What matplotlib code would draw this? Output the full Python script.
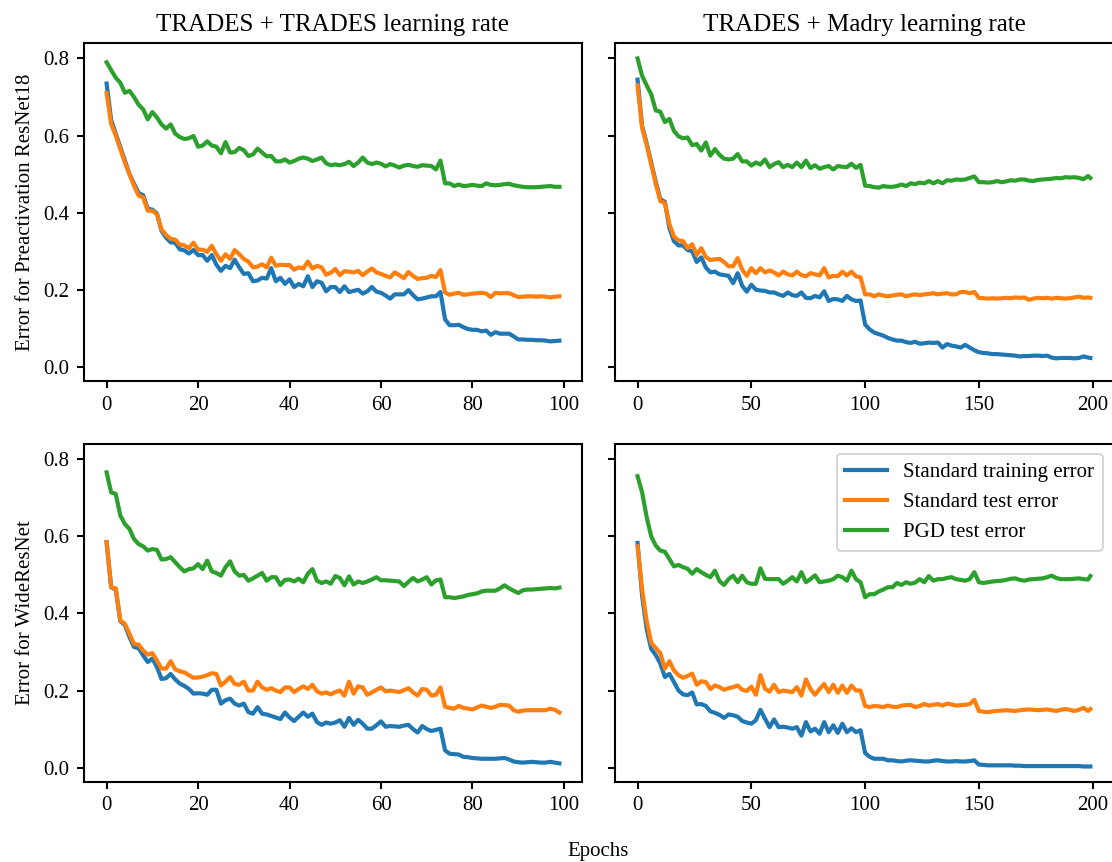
import numpy as np
import matplotlib
matplotlib.use("Agg")
import matplotlib.pyplot as plt

plt.rcParams['font.family'] = ['Liberation Serif', 'DejaVu Serif']
plt.rcParams['lines.linewidth'] = 2.0
plt.rcParams['axes.linewidth'] = 1.0
plt.rcParams['xtick.major.width'] = 1.0
plt.rcParams['ytick.major.width'] = 1.0

# epochs
epochs_short = np.arange(0, 100)
epochs_long = np.append(np.arange(0, 200, 2), 199)

# Preactivation ResNet18, TRADES learning rate (100 epochs)
pr_trades_train = [
    0.735, 0.64, 0.605, 0.57, 0.535, 0.50, 0.475, 0.451, 0.445, 0.41,
    0.408, 0.398, 0.353, 0.335, 0.323, 0.322, 0.305, 0.302, 0.294, 0.303,
    0.290, 0.290, 0.275, 0.290, 0.265, 0.249, 0.262, 0.256, 0.278, 0.258,
    0.241, 0.243, 0.222, 0.224, 0.231, 0.229, 0.256, 0.222, 0.231, 0.215,
    0.227, 0.207, 0.215, 0.209, 0.235, 0.207, 0.222, 0.218, 0.196, 0.207,
    0.207, 0.194, 0.209, 0.194, 0.197, 0.200, 0.190, 0.196, 0.207, 0.195,
    0.192, 0.185, 0.177, 0.188, 0.188, 0.188, 0.199, 0.186, 0.175, 0.177,
    0.180, 0.183, 0.183, 0.194, 0.123, 0.108, 0.108, 0.109, 0.103, 0.098,
    0.096, 0.096, 0.092, 0.094, 0.083, 0.090, 0.086, 0.086, 0.086, 0.079,
    0.071, 0.071, 0.070, 0.070, 0.069, 0.069, 0.068, 0.066, 0.067, 0.068]
pr_trades_test = [
    0.71, 0.63, 0.60, 0.565, 0.53, 0.50, 0.47, 0.444, 0.44, 0.405,
    0.405, 0.396, 0.357, 0.342, 0.332, 0.330, 0.317, 0.315, 0.308, 0.322,
    0.304, 0.304, 0.298, 0.314, 0.292, 0.275, 0.292, 0.280, 0.303, 0.292,
    0.280, 0.273, 0.258, 0.260, 0.266, 0.258, 0.283, 0.262, 0.265, 0.264,
    0.264, 0.252, 0.258, 0.255, 0.273, 0.255, 0.262, 0.258, 0.239, 0.244,
    0.254, 0.238, 0.248, 0.247, 0.245, 0.249, 0.238, 0.247, 0.255, 0.245,
    0.241, 0.236, 0.232, 0.245, 0.238, 0.230, 0.246, 0.236, 0.228, 0.230,
    0.231, 0.236, 0.233, 0.251, 0.193, 0.187, 0.190, 0.192, 0.187, 0.188,
    0.190, 0.191, 0.192, 0.190, 0.181, 0.192, 0.191, 0.191, 0.191, 0.186,
    0.181, 0.182, 0.183, 0.183, 0.182, 0.183, 0.182, 0.180, 0.182, 0.183]
pr_trades_pgd = [
    0.79, 0.77, 0.75, 0.737, 0.711, 0.716, 0.70, 0.68, 0.668, 0.642,
    0.661, 0.647, 0.629, 0.618, 0.629, 0.605, 0.596, 0.591, 0.593, 0.599,
    0.571, 0.574, 0.585, 0.574, 0.571, 0.554, 0.583, 0.556, 0.557, 0.568,
    0.562, 0.547, 0.551, 0.566, 0.556, 0.546, 0.547, 0.533, 0.533, 0.538,
    0.530, 0.534, 0.540, 0.543, 0.540, 0.534, 0.538, 0.543, 0.528, 0.523,
    0.525, 0.523, 0.526, 0.532, 0.521, 0.530, 0.543, 0.530, 0.526, 0.530,
    0.527, 0.520, 0.526, 0.522, 0.517, 0.522, 0.524, 0.521, 0.519, 0.523,
    0.522, 0.521, 0.512, 0.535, 0.476, 0.476, 0.469, 0.473, 0.469, 0.470,
    0.472, 0.470, 0.469, 0.476, 0.472, 0.471, 0.472, 0.474, 0.475, 0.471,
    0.469, 0.467, 0.466, 0.466, 0.466, 0.467, 0.468, 0.469, 0.467, 0.467]

# Preactivation ResNet18, Madry learning rate (200 epochs, every 2nd)
pr_madry_train = [
    0.745, 0.625, 0.58, 0.53, 0.48, 0.435, 0.428, 0.36, 0.326, 0.315,
    0.315, 0.303, 0.300, 0.272, 0.284, 0.258, 0.245, 0.247, 0.240, 0.238,
    0.236, 0.217, 0.243, 0.210, 0.195, 0.213, 0.200, 0.198, 0.197, 0.193,
    0.193, 0.188, 0.184, 0.193, 0.186, 0.184, 0.193, 0.179, 0.178, 0.184,
    0.180, 0.196, 0.171, 0.176, 0.175, 0.171, 0.184, 0.175, 0.171, 0.172,
    0.110, 0.097, 0.089, 0.085, 0.081, 0.075, 0.071, 0.068, 0.068, 0.064,
    0.062, 0.065, 0.060, 0.061, 0.063, 0.062, 0.063, 0.050, 0.059, 0.055,
    0.053, 0.050, 0.057, 0.050, 0.043, 0.038, 0.036, 0.035, 0.033, 0.033,
    0.032, 0.031, 0.030, 0.029, 0.027, 0.028, 0.028, 0.029, 0.029, 0.028,
    0.029, 0.024, 0.022, 0.023, 0.023, 0.023, 0.022, 0.023, 0.027, 0.024,
    0.023]
pr_madry_test = [
    0.73, 0.62, 0.575, 0.525, 0.475, 0.43, 0.425, 0.37, 0.338, 0.328,
    0.326, 0.308, 0.318, 0.29, 0.308, 0.285, 0.277, 0.279, 0.28, 0.272,
    0.261, 0.261, 0.282, 0.252, 0.236, 0.256, 0.243, 0.256, 0.245, 0.250,
    0.245, 0.237, 0.247, 0.240, 0.237, 0.247, 0.238, 0.235, 0.243, 0.240,
    0.237, 0.256, 0.232, 0.236, 0.235, 0.247, 0.237, 0.247, 0.235, 0.232,
    0.188, 0.188, 0.183, 0.188, 0.185, 0.183, 0.185, 0.187, 0.188, 0.183,
    0.186, 0.188, 0.186, 0.188, 0.189, 0.191, 0.188, 0.190, 0.191, 0.188,
    0.188, 0.194, 0.194, 0.191, 0.194, 0.179, 0.178, 0.177, 0.178, 0.177,
    0.178, 0.179, 0.178, 0.180, 0.179, 0.180, 0.174, 0.177, 0.179, 0.178,
    0.179, 0.177, 0.179, 0.178, 0.177, 0.178, 0.180, 0.182, 0.179, 0.180,
    0.179]
pr_madry_pgd = [
    0.80, 0.755, 0.73, 0.707, 0.665, 0.662, 0.635, 0.643, 0.612, 0.598,
    0.593, 0.595, 0.575, 0.578, 0.561, 0.582, 0.548, 0.565, 0.550, 0.540,
    0.538, 0.540, 0.552, 0.533, 0.533, 0.522, 0.530, 0.525, 0.538, 0.518,
    0.526, 0.531, 0.518, 0.524, 0.518, 0.530, 0.518, 0.535, 0.516, 0.523,
    0.514, 0.518, 0.521, 0.512, 0.521, 0.519, 0.518, 0.527, 0.516, 0.524,
    0.470, 0.469, 0.466, 0.465, 0.469, 0.467, 0.467, 0.469, 0.473, 0.469,
    0.476, 0.474, 0.478, 0.476, 0.482, 0.476, 0.482, 0.476, 0.484, 0.483,
    0.486, 0.485, 0.486, 0.490, 0.494, 0.479, 0.479, 0.478, 0.479, 0.482,
    0.479, 0.481, 0.484, 0.483, 0.486, 0.486, 0.483, 0.482, 0.485, 0.486,
    0.487, 0.488, 0.490, 0.489, 0.492, 0.491, 0.492, 0.490, 0.487, 0.495,
    0.490]

# WideResNet, TRADES learning rate (100 epochs)
wr_trades_train = [
    0.585, 0.468, 0.462, 0.38, 0.37, 0.339, 0.313, 0.31, 0.291, 0.274,
    0.283, 0.261, 0.230, 0.232, 0.243, 0.229, 0.218, 0.212, 0.204, 0.192,
    0.193, 0.192, 0.189, 0.202, 0.202, 0.166, 0.175, 0.179, 0.166, 0.161,
    0.166, 0.144, 0.140, 0.157, 0.140, 0.138, 0.134, 0.130, 0.126, 0.143,
    0.130, 0.121, 0.132, 0.143, 0.132, 0.140, 0.118, 0.111, 0.117, 0.114,
    0.117, 0.123, 0.106, 0.129, 0.111, 0.124, 0.114, 0.101, 0.101, 0.110,
    0.120, 0.106, 0.108, 0.107, 0.106, 0.109, 0.111, 0.100, 0.091, 0.108,
    0.100, 0.095, 0.098, 0.101, 0.045, 0.036, 0.035, 0.034, 0.028, 0.027,
    0.025, 0.024, 0.023, 0.023, 0.023, 0.023, 0.024, 0.025, 0.021, 0.016,
    0.014, 0.013, 0.014, 0.015, 0.014, 0.013, 0.013, 0.015, 0.013, 0.011]
wr_trades_test = [
    0.585, 0.468, 0.465, 0.382, 0.373, 0.347, 0.321, 0.319, 0.304, 0.293,
    0.297, 0.278, 0.257, 0.257, 0.276, 0.255, 0.250, 0.247, 0.240, 0.233,
    0.234, 0.236, 0.240, 0.245, 0.243, 0.213, 0.223, 0.235, 0.217, 0.215,
    0.223, 0.200, 0.200, 0.223, 0.208, 0.202, 0.206, 0.200, 0.196, 0.208,
    0.208, 0.196, 0.204, 0.211, 0.204, 0.215, 0.198, 0.192, 0.195, 0.190,
    0.196, 0.200, 0.187, 0.223, 0.192, 0.211, 0.208, 0.189, 0.195, 0.202,
    0.208, 0.198, 0.200, 0.198, 0.196, 0.201, 0.206, 0.195, 0.187, 0.204,
    0.202, 0.187, 0.189, 0.208, 0.158, 0.155, 0.153, 0.160, 0.155, 0.153,
    0.151, 0.156, 0.161, 0.158, 0.155, 0.158, 0.163, 0.162, 0.161, 0.149,
    0.145, 0.148, 0.149, 0.149, 0.149, 0.149, 0.149, 0.153, 0.150, 0.143]
wr_trades_pgd = [
    0.766, 0.714, 0.71, 0.654, 0.632, 0.619, 0.593, 0.58, 0.574, 0.563,
    0.567, 0.565, 0.540, 0.541, 0.546, 0.533, 0.520, 0.509, 0.515, 0.517,
    0.528, 0.515, 0.537, 0.509, 0.505, 0.498, 0.520, 0.535, 0.509, 0.498,
    0.500, 0.485, 0.491, 0.498, 0.505, 0.485, 0.494, 0.494, 0.474, 0.487,
    0.488, 0.483, 0.490, 0.481, 0.503, 0.515, 0.485, 0.479, 0.483, 0.477,
    0.497, 0.492, 0.473, 0.496, 0.475, 0.483, 0.479, 0.483, 0.488, 0.494,
    0.486, 0.486, 0.485, 0.484, 0.483, 0.471, 0.482, 0.492, 0.483, 0.488,
    0.494, 0.475, 0.486, 0.488, 0.442, 0.442, 0.440, 0.442, 0.444, 0.448,
    0.450, 0.452, 0.457, 0.459, 0.459, 0.459, 0.465, 0.473, 0.465, 0.459,
    0.453, 0.460, 0.462, 0.462, 0.463, 0.464, 0.465, 0.466, 0.465, 0.467]

# WideResNet, Madry learning rate (200 epochs, every 2nd)
wr_madry_train = [
    0.583, 0.446, 0.36, 0.308, 0.292, 0.27, 0.235, 0.243, 0.222, 0.200,
    0.190, 0.188, 0.195, 0.164, 0.165, 0.160, 0.146, 0.142, 0.137, 0.129,
    0.138, 0.136, 0.132, 0.121, 0.117, 0.114, 0.123, 0.150, 0.127, 0.105,
    0.125, 0.105, 0.106, 0.104, 0.101, 0.105, 0.083, 0.118, 0.094, 0.101,
    0.088, 0.118, 0.092, 0.110, 0.090, 0.114, 0.092, 0.102, 0.092, 0.097,
    0.038, 0.028, 0.023, 0.023, 0.023, 0.019, 0.019, 0.017, 0.016, 0.018,
    0.019, 0.018, 0.017, 0.016, 0.016, 0.018, 0.019, 0.017, 0.016, 0.016,
    0.017, 0.016, 0.016, 0.017, 0.019, 0.008, 0.007, 0.006, 0.006, 0.006,
    0.006, 0.006, 0.006, 0.005, 0.005, 0.004, 0.004, 0.004, 0.004, 0.004,
    0.004, 0.004, 0.004, 0.004, 0.004, 0.004, 0.004, 0.004, 0.003, 0.003,
    0.003]
wr_madry_test = [
    0.574, 0.462, 0.38, 0.324, 0.31, 0.297, 0.257, 0.276, 0.252, 0.240,
    0.233, 0.238, 0.244, 0.215, 0.224, 0.222, 0.204, 0.213, 0.209, 0.202,
    0.206, 0.209, 0.213, 0.202, 0.199, 0.210, 0.189, 0.240, 0.205, 0.197,
    0.215, 0.196, 0.200, 0.198, 0.196, 0.209, 0.187, 0.229, 0.204, 0.189,
    0.204, 0.217, 0.196, 0.215, 0.194, 0.213, 0.194, 0.213, 0.200, 0.200,
    0.160, 0.157, 0.160, 0.159, 0.157, 0.161, 0.158, 0.157, 0.161, 0.162,
    0.163, 0.157, 0.160, 0.165, 0.161, 0.163, 0.165, 0.161, 0.166, 0.164,
    0.161, 0.162, 0.163, 0.165, 0.176, 0.147, 0.145, 0.144, 0.146, 0.147,
    0.148, 0.149, 0.148, 0.147, 0.149, 0.150, 0.151, 0.150, 0.149, 0.150,
    0.151, 0.149, 0.147, 0.150, 0.152, 0.150, 0.147, 0.150, 0.155, 0.147,
    0.152]
wr_madry_pgd = [
    0.756, 0.714, 0.65, 0.60, 0.576, 0.563, 0.560, 0.541, 0.522, 0.526,
    0.520, 0.516, 0.503, 0.515, 0.507, 0.500, 0.494, 0.511, 0.484, 0.474,
    0.489, 0.498, 0.481, 0.498, 0.481, 0.477, 0.477, 0.517, 0.490, 0.489,
    0.489, 0.489, 0.477, 0.485, 0.494, 0.483, 0.507, 0.481, 0.489, 0.499,
    0.481, 0.483, 0.485, 0.489, 0.498, 0.494, 0.485, 0.511, 0.489, 0.481,
    0.442, 0.450, 0.450, 0.457, 0.462, 0.468, 0.468, 0.479, 0.474, 0.481,
    0.477, 0.480, 0.489, 0.481, 0.497, 0.485, 0.489, 0.489, 0.492, 0.494,
    0.489, 0.487, 0.485, 0.489, 0.507, 0.481, 0.479, 0.481, 0.483, 0.484,
    0.485, 0.487, 0.490, 0.491, 0.487, 0.485, 0.488, 0.489, 0.490, 0.491,
    0.494, 0.498, 0.492, 0.489, 0.489, 0.489, 0.490, 0.491, 0.489, 0.488,
    0.497]

titles = ["TRADES + TRADES learning rate", "TRADES + Madry learning rate"]
row_labels = ["Error for Preactivation ResNet18", "Error for WideResNet"]
legend_labels = ["Standard training error", "Standard test error", "PGD test error"]

panels = [
    [(epochs_short, pr_trades_train, pr_trades_test, pr_trades_pgd),
     (epochs_long, pr_madry_train, pr_madry_test, pr_madry_pgd)],
    [(epochs_short, wr_trades_train, wr_trades_test, wr_trades_pgd),
     (epochs_long, wr_madry_train, wr_madry_test, wr_madry_pgd)],
]

fig, axes = plt.subplots(2, 2, sharey=True, figsize=(1112 / 150, 862 / 150), dpi=150)
fig.subplots_adjust(left=0.0755, right=1.0009, top=0.950, bottom=0.093,
                    wspace=0.066, hspace=0.186)

for i in range(2):
    for j in range(2):
        ax = axes[i, j]
        x, tr, te, pgd = panels[i][j]
        ax.plot(x, tr, label=legend_labels[0])
        ax.plot(x, te, label=legend_labels[1])
        ax.plot(x, pgd, label=legend_labels[2])
        if i == 0:
            ax.set_title(titles[j])
        if j == 0:
            ax.set_ylabel(row_labels[i])

axes[1, 1].legend(loc='upper right')
fig.text((84 + 1113) / 2 / 1112, 0.012, "Epochs", ha='center', va='center', fontsize=10)

plt.savefig("out.png", dpi=150)
